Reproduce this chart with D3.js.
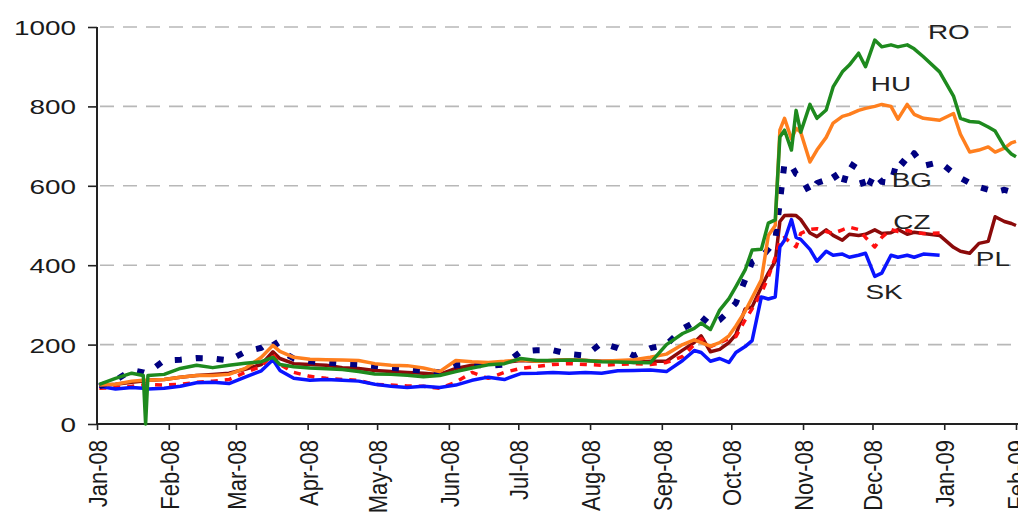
<!DOCTYPE html>
<html><head><meta charset="utf-8">
<script src="https://cdn.jsdelivr.net/npm/d3@7"></script>
<style>body{margin:0;background:#fff}svg{display:block}</style>
</head><body><svg id="c" width="1018" height="514"></svg>
<script>
const dates = ["2008-01-02","2008-01-09","2008-01-16","2008-01-21","2008-01-22","2008-01-23","2008-01-30",
"2008-02-06","2008-02-13","2008-02-20","2008-02-27",
"2008-03-05","2008-03-12","2008-03-17","2008-03-20","2008-03-26",
"2008-04-02","2008-04-09","2008-04-16","2008-04-23","2008-04-30",
"2008-05-07","2008-05-14","2008-05-21","2008-05-28",
"2008-06-04","2008-06-11","2008-06-18","2008-06-25",
"2008-07-02","2008-07-09","2008-07-16","2008-07-23","2008-07-30",
"2008-08-06","2008-08-13","2008-08-20","2008-08-27",
"2008-09-03","2008-09-10","2008-09-15","2008-09-18","2008-09-22","2008-09-26","2008-09-30",
"2008-10-03","2008-10-07","2008-10-10","2008-10-14","2008-10-17","2008-10-20","2008-10-22","2008-10-24","2008-10-27","2008-10-29","2008-10-31",
"2008-11-04","2008-11-07","2008-11-11","2008-11-14","2008-11-18","2008-11-21","2008-11-25","2008-11-28",
"2008-12-02","2008-12-05","2008-12-09","2008-12-12","2008-12-16","2008-12-19","2008-12-23","2008-12-30",
"2009-01-05","2009-01-08","2009-01-12","2009-01-16","2009-01-20","2009-01-23","2009-01-27","2009-01-30","2009-02-01"];

const RO = [100,115,128,122,0,122,125,
140,148,142,148,
153,157,168,150,144,
141,139,137,132,126,
125,123,119,122,
132,141,149,152,
165,160,160,161,160,
157,156,155,154,
200,228,241,254,238,287,316,
346,388,438,440,506,514,723,740,690,790,735,
805,770,791,849,887,904,934,900,
967,950,955,950,955,945,925,887,
826,770,762,760,748,738,698,680,673];

const HU = [98,100,108,110,110,110,112,
118,122,122,125,
140,168,198,183,168,
163,162,161,160,152,
148,147,141,132,
160,157,155,158,
162,158,160,162,160,
158,160,162,168,
176,200,212,205,196,205,222,
247,284,318,363,475,500,740,770,718,745,735,
660,690,722,758,775,780,790,795,
800,805,800,768,805,780,770,765,
782,730,685,690,698,685,695,708,712];

const BG = [95,110,136,130,128,130,160,
162,166,165,160,
182,192,212,185,165,
158,155,152,150,146,
142,138,134,130,
148,150,146,150,
182,186,186,176,172,
204,191,172,191,
200,240,256,270,250,262,285,
305,363,408,420,440,463,560,657,650,630,625,
581,607,615,632,597,657,642,584,
632,610,607,670,650,682,650,660,
632,620,607,597,590,584,590,585,581];

const PL = [97,100,105,108,108,110,112,
118,122,125,128,
138,150,182,165,152,
150,148,142,140,135,
132,130,128,125,
140,148,152,155,
160,158,160,162,160,
158,158,155,158,
158,186,205,222,182,188,205,
225,290,295,345,380,410,510,525,526,525,515,
481,472,489,475,463,478,475,478,
489,480,482,490,478,483,480,475,
445,435,430,455,460,522,510,505,500];

const SK = [95,88,92,90,90,88,90,
95,104,105,102,
118,134,162,135,115,
110,112,110,108,100,
95,92,95,92,
98,110,118,112,
127,128,130,128,130,
128,134,135,136,
132,160,185,180,158,165,155,
180,195,210,320,315,320,446,463,515,470,465,
440,410,435,425,428,420,425,430,
372,380,425,420,425,420,428,425,
null,null,null,null,null,null,null,null,null];

const CZ = [90,92,95,98,98,100,98,
100,105,108,112,
130,145,175,150,130,
120,115,112,110,100,
98,96,95,90,
105,130,115,130,
140,145,150,152,150,
148,150,152,150,
155,170,200,215,195,205,215,
220,262,290,330,370,420,463,470,455,446,480,
490,492,485,480,489,496,490,470,
446,470,490,485,488,482,480,481,
null,null,null,null,null,null,null,null,null];

const yTicks = [0,200,400,600,800,1000];
const monthTicks = ["2008-01-01","2008-02-01","2008-03-01","2008-04-01","2008-05-01","2008-06-01","2008-07-01",
"2008-08-01","2008-09-01","2008-10-01","2008-11-01","2008-12-01","2009-01-01","2009-02-01"];

const labelNames = ["RO","HU","BG","CZ","PL","SK"];
const labelDates = ["2009-01-03","2008-12-09","2008-12-18","2008-12-18","2009-01-22","2008-12-06"];
const labelValues = [990,859,615,509,416,333];

const parse = d3.timeParse("%Y-%m-%d");
const svg = d3.select("#c");
const FONT = "'Liberation Sans', Arial, sans-serif";

const x = d3.scaleTime().domain([parse("2008-01-01"), parse("2009-02-01")]).range([97, 1016]);
const y = d3.scaleLinear().domain([0, 1000]).range([424, 27]);

// gridlines
svg.append("g").selectAll("line").data(yTicks.filter(v => v > 0)).join("line")
  .attr("x1", 100).attr("x2", 1018)
  .attr("y1", d => y(d)).attr("y2", d => y(d))
  .attr("stroke", "#b8b8b8").attr("stroke-width", 1.6).attr("stroke-dasharray", "14,9");

// y axis
const yAxis = svg.append("g").attr("transform", "translate(97,0)")
  .call(d3.axisLeft(y).tickValues(yTicks).tickFormat(d3.format("d")).tickSize(9).tickSizeOuter(0));
yAxis.select(".domain").remove();
yAxis.selectAll(".tick line").attr("stroke", "#222").attr("stroke-width", 1.6);
yAxis.selectAll("text").attr("x", 0).attr("dy", "0.36em")
  .attr("transform", "translate(-21,0) scale(1.33,1)")
  .attr("font-family", FONT).attr("font-size", 21).attr("fill", "#1a1a1a");

// x axis
const xAxis = svg.append("g").attr("transform", "translate(0,424)")
  .call(d3.axisBottom(x).tickValues(monthTicks.map(parse)).tickFormat(d3.timeFormat("%b-%y")).tickSize(6).tickSizeOuter(0));
xAxis.select(".domain").remove();
xAxis.selectAll(".tick line").attr("stroke", "#222").attr("stroke-width", 1.6);
xAxis.selectAll("text").attr("x", 0).attr("y", 0).attr("dy", "0.36em")
  .attr("text-anchor", "end")
  .attr("transform", "translate(0,16) scale(1.2,1) rotate(-90)")
  .attr("font-family", FONT).attr("font-size", 22).attr("fill", "#1a1a1a");

// axis lines
svg.append("line").attr("x1", 97).attr("x2", 97).attr("y1", 27).attr("y2", 424)
  .attr("stroke", "#222").attr("stroke-width", 2);
svg.append("line").attr("x1", 97).attr("x2", 1018).attr("y1", 424).attr("y2", 424)
  .attr("stroke", "#222").attr("stroke-width", 2);

// series
const pd = dates.map(parse);
const series = [
  {name: "PL", values: PL, color: "#8b0a0a", width: 3.5, dash: null},
  {name: "CZ", values: CZ, color: "#ff1010", width: 3.5, dash: "7,7"},
  {name: "SK", values: SK, color: "#0a14ff", width: 3.5, dash: null},
  {name: "BG", values: BG, color: "#000080", width: 6, dash: "7,14"},
  {name: "HU", values: HU, color: "#ff7f1e", width: 3.5, dash: null},
  {name: "RO", values: RO, color: "#1e8a1e", width: 3.5, dash: null}
];
const line = d3.line().defined(d => d[1] != null).x(d => x(d[0])).y(d => y(d[1]));
svg.append("g").selectAll("path").data(series).join("path")
  .attr("d", s => line(s.values.map((v, i) => [pd[i], v])))
  .attr("fill", "none")
  .attr("stroke", s => s.color)
  .attr("stroke-width", s => s.width)
  .attr("stroke-dasharray", s => s.dash)
  .attr("stroke-linejoin", "round");

// series labels
svg.append("g").selectAll("text").data(labelNames).join("text")
  .attr("transform", (n, i) => `translate(${x(parse(labelDates[i]))},${y(labelValues[i])}) scale(1.33,1)`)
  .attr("text-anchor", "middle").attr("dy", "0.36em")
  .attr("font-family", FONT).attr("font-size", 21).attr("fill", "#222")
  .text(d => d);
</script></body></html>
